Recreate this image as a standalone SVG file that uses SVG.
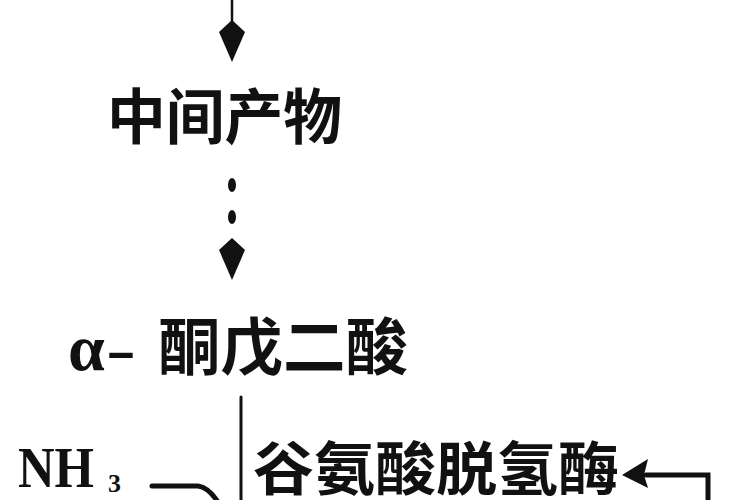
<svg xmlns="http://www.w3.org/2000/svg" xmlns:xlink="http://www.w3.org/1999/xlink" width="750" height="500" viewBox="0 0 750 500">
<style>
.cjk{font-family:"Noto Sans CJK SC","Noto Sans CJK TC",sans-serif;font-weight:bold;fill:#111}
.lat{font-family:"Liberation Serif","Times New Roman",serif;font-weight:bold;fill:#111}
.ln{stroke:#111;fill:none;stroke-linecap:round}
.head{fill:#111}
</style>
<defs>
<path id="ah" d="M0,0 L13,12 L0,42 L-13,12 Z"/>
</defs>
<rect width="750" height="500" fill="#fff"/>
<g id="connectors">
  <line class="ln" x1="232" y1="0" x2="232" y2="24" stroke-width="2.5"/>
  <use xlink:href="#ah" href="#ah" class="head" x="232" y="20"/>
  <ellipse class="head" cx="232" cy="185" rx="4" ry="7"/>
  <ellipse class="head" cx="232" cy="217" rx="4" ry="7"/>
  <use xlink:href="#ah" href="#ah" class="head" x="232" y="238"/>
  <line class="ln" x1="241" y1="397" x2="241" y2="500" stroke-width="3"/>
  <path class="ln" d="M152,486 L198,486 Q208,487 218,502" stroke-width="5"/>
  <path class="ln" d="M646,475 L708,475 L708,502" stroke-width="5"/>
  <path class="head" d="M622,475 L648,459 L644,475 L648,488 Z"/>
</g>
<g id="node-intermediate">
  <text class="cjk" x="107" y="139" font-size="60" textLength="235" lengthAdjust="spacingAndGlyphs">中间产物</text>
</g>
<g id="node-akg">
  <text x="68" y="370"><tspan class="lat" font-size="66">α</tspan><tspan class="lat" font-size="62" x="106" textLength="30" lengthAdjust="spacingAndGlyphs">-</tspan><tspan class="cjk" font-size="62" x="158" textLength="250" lengthAdjust="spacingAndGlyphs">酮戊二酸</tspan></text>
</g>
<g id="node-nh3">
  <text x="18" y="487"><tspan class="lat" font-size="58" textLength="76" lengthAdjust="spacingAndGlyphs">NH</tspan><tspan class="lat" font-size="26" x="108" y="492">3</tspan></text>
</g>
<g id="node-enzyme">
  <text class="cjk" x="253" y="490" font-size="58" textLength="366" lengthAdjust="spacingAndGlyphs">谷氨酸脱氢酶</text>
</g>
</svg>
